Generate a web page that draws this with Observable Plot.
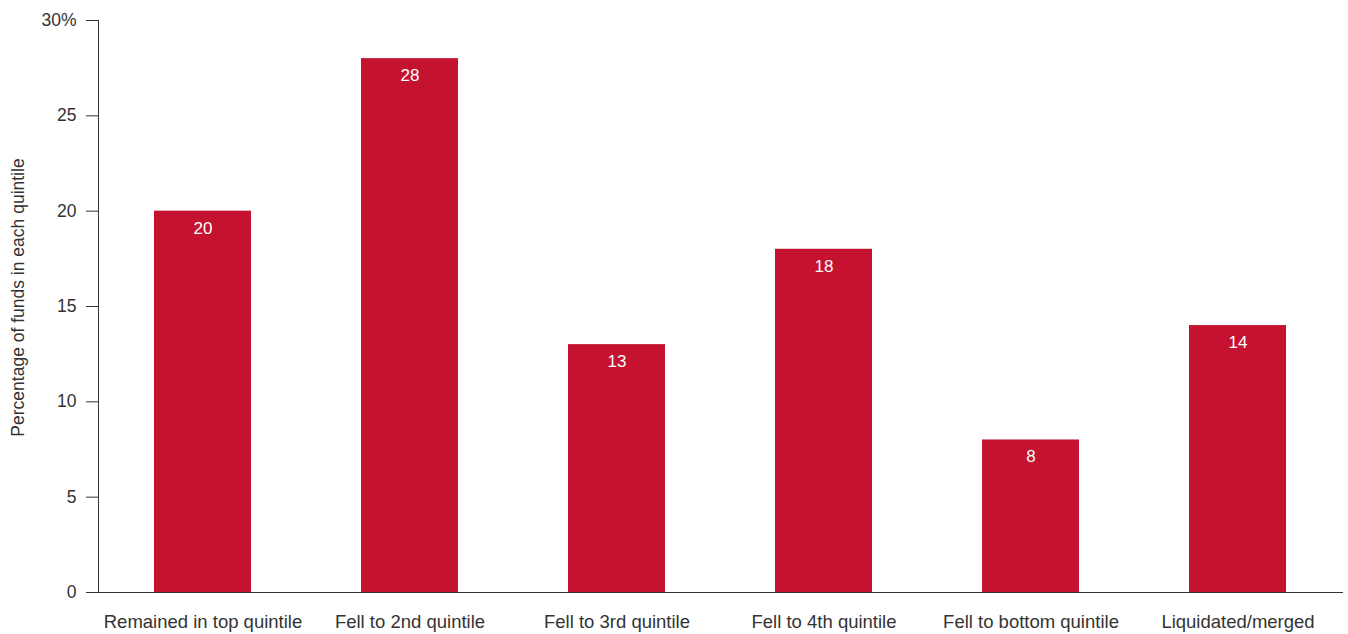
<!DOCTYPE html>
<html>
<head>
<meta charset="utf-8">
<script src="https://cdn.jsdelivr.net/npm/d3@7"></script>
<script src="https://cdn.jsdelivr.net/npm/@observablehq/plot@0.6"></script>
<style>
  body { margin: 0; background: #fff; }
  #chart svg { display: block; }
</style>
</head>
<body>
<div id="chart"></div>
<script>
const categories = ["Remained in top quintile", "Fell to 2nd quintile", "Fell to 3rd quintile", "Fell to 4th quintile", "Fell to bottom quintile", "Liquidated/merged"];
const values = [20, 28, 13, 18, 8, 14];
const yTicks = [0, 5, 10, 15, 20, 25, 30];
const yLabel = "Percentage of funds in each quintile";

const data = categories.map((c, i) => ({category: c, value: values[i]}));

const chart = Plot.plot({
  width: 1348,
  height: 634,
  marginLeft: 98,
  marginRight: 5,
  marginTop: 20,
  marginBottom: 42,
  style: {fontFamily: "Liberation Sans, Arial, sans-serif", fontSize: "17px", color: "#333", background: "#fff"},
  x: {domain: categories, paddingInner: 0.53, paddingOuter: 0.265, label: null},
  y: {domain: [0, 30], ticks: yTicks, label: null},
  marks: [
    Plot.barY(data, {x: "category", y: "value", fill: "#c41230"}),
    Plot.text(data, {x: "category", y: "value", text: d => String(d.value), dy: 17, fill: "#fff", fontSize: 17}),
    Plot.axisX({tickSize: 0, tickPadding: 22, fontSize: 18.5, label: null}),
    Plot.axisY({ticks: yTicks, tickSize: 12, tickPadding: 10, fontSize: 17.5,
      tickFormat: d => d === 30 ? "30%" : String(d), label: null}),
    Plot.text([yLabel], {text: d => d, frameAnchor: "left", textAnchor: "middle", rotate: -90, dx: -80, dy: -9, fontSize: 17.5, fill: "#333"}),
    Plot.ruleY([0], {stroke: "#333"}),
    Plot.frame({anchor: "left", stroke: "#333"})
  ]
});
document.getElementById("chart").appendChild(chart);
</script>
</body>
</html>
